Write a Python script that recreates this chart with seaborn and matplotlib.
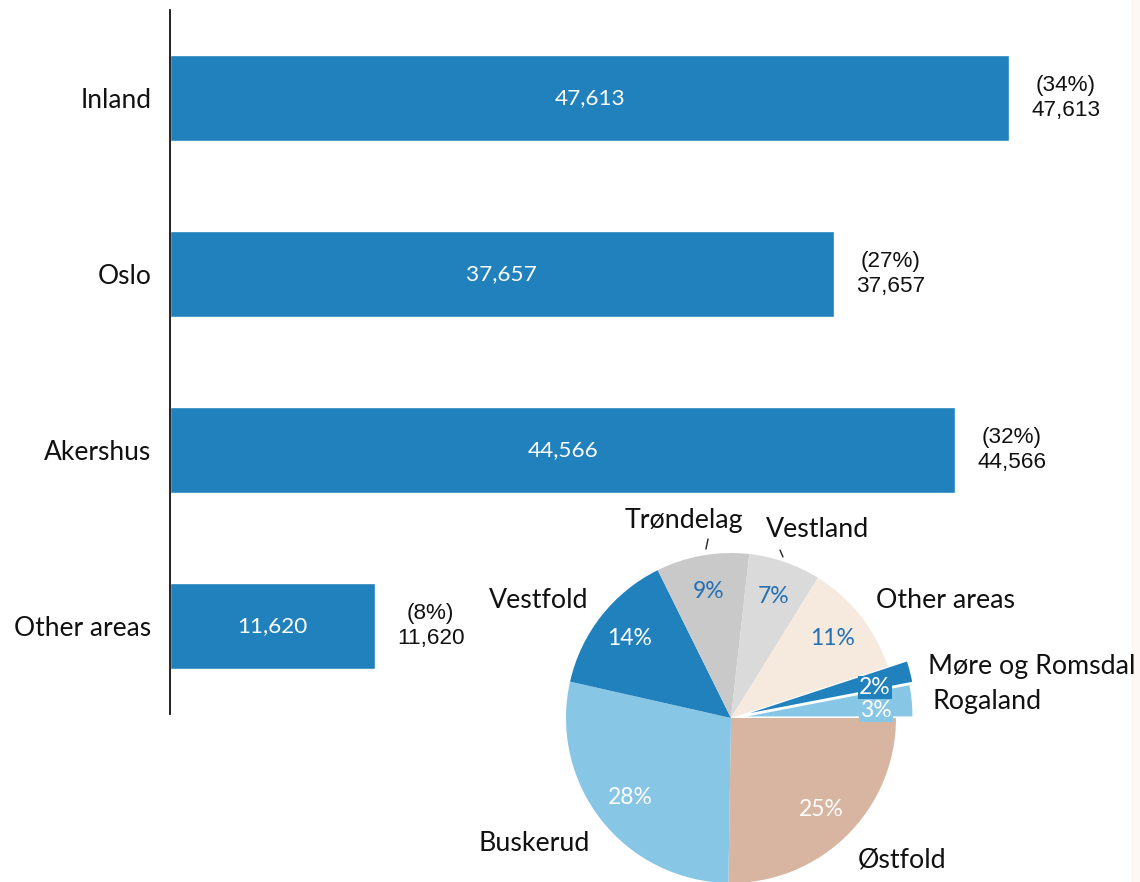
import matplotlib
matplotlib.use("Agg")
import math
import matplotlib.pyplot as plt
import seaborn as sns
import pandas as pd
from matplotlib.patches import Rectangle

# Bar chart: counts by region
regions = ["Inland", "Oslo", "Akershus", "Other areas"]
counts = [47613, 37657, 44566, 11620]

# Pie chart: breakdown of "Other areas" (percent shares)
pie_areas = ["Østfold", "Buskerud", "Vestfold", "Trøndelag", "Vestland",
             "Other areas", "Møre og Romsdal", "Rogaland"]
pie_shares = [25, 28, 14, 9, 7, 11, 2, 3]

BLUE = "#2081BD"
LIGHT_BLUE = "#88C6E5"
pie_colors = ["#D8B5A1", LIGHT_BLUE, BLUE, "#C9C9C9", "#DADADA",
              "#F6E9DD", BLUE, LIGHT_BLUE]
pct_colors = ["white", "white", "white", "#2270B3", "#2270B3",
              "#2270B3", "white", "white"]
explode = [0, 0, 0, 0, 0, 0, 0.12, 0.10]

# label anchor positions around the pie (in pie radius units)
label_layout = {
    "Trøndelag": (-0.285, 1.194, "center"),
    "Vestland": (0.527, 1.145, "center"),
    "Other areas": (0.879, 0.715, "left"),
    "Møre og Romsdal": (1.194, 0.315, "left"),
    "Rogaland": (1.224, 0.097, "left"),
    "Vestfold": (-0.867, 0.715, "right"),
    "Buskerud": (-0.855, -0.758, "right"),
    "Østfold": (0.770, -0.861, "left"),
}
# short leader strokes under the top labels (pie radius units)
leader_strokes = {
    "Trøndelag": ((-0.152, 1.024), (-0.139, 1.085)),
    "Vestland": ((0.297, 1.018), (0.315, 0.976)),
}

sns.set_style("white")
plt.rcParams["font.family"] = ["Lato", "DejaVu Sans"]

W, H = 1140, 882
fig = plt.figure(figsize=(W / 100, H / 100), dpi=100)
fig.patches.append(Rectangle((1131 / W, 0), 9 / W, 1, transform=fig.transFigure,
                             facecolor="#FDF8F4", edgecolor="none", zorder=-5))

# ---- horizontal bars ----
ax = fig.add_axes([170 / W, 168 / H, 916.4 / W, 704 / H])
ax.patch.set_alpha(0)
df = pd.DataFrame({"region": regions, "count": counts})
sns.barplot(data=df, y="region", x="count", orient="h", color=BLUE,
            saturation=1, width=0.49, ax=ax)
ax.set_xlim(0, 52000)
ax.set_ylim(3.5, -0.5)
ax.set_xlabel("")
ax.set_ylabel("")
ax.set_xticks([])
for side in ["top", "right", "bottom"]:
    ax.spines[side].set_visible(False)
ax.spines["left"].set_color("#111111")
ax.spines["left"].set_linewidth(1.3)
ax.tick_params(axis="y", length=0, pad=13.5, labelsize=19, labelcolor="#111111")

bars = ax.containers[0]
ax.bar_label(bars, labels=[f"{v:,}" for v in counts], label_type="center",
             color="white", fontsize=16.2)
total = sum(counts)
for i, v in enumerate(counts):
    ax.annotate(f"({v / total * 100:.0f}%)\n{v:,}", xy=(v, i), xytext=(22, 0),
                textcoords="offset pixels", ha="left", va="center",
                multialignment="center", fontfamily="Liberation Sans",
                fontsize=16.2, linespacing=1.2, color="#111111")

# ---- pie inset ----
cx, cy, half = 731, 718, 214.5
pax = fig.add_axes([(cx - half) / W, (H - cy - half) / H, 2 * half / W, 2 * half / H])
pax.patch.set_alpha(0)
wedges, _ = pax.pie(pie_shares, colors=pie_colors, startangle=0, counterclock=False,
                    explode=explode, radius=1, wedgeprops=dict(linewidth=0))
pax.set_xlim(-1.3, 1.3)
pax.set_ylim(-1.3, 1.3)
pax.set_aspect("equal")
pax.axis("off")

for w, name, share, fc, tc in zip(wedges, pie_areas, pie_shares, pie_colors, pct_colors):
    mid = math.radians((w.theta1 + w.theta2) / 2)
    x0, y0 = w.center
    px = x0 + 0.78 * math.cos(mid)
    py = y0 + 0.78 * math.sin(mid) - (0.04 if share <= 3 else 0)
    kw = {}
    if share <= 3:
        kw["bbox"] = dict(boxstyle="square,pad=0.05", facecolor=fc, edgecolor="none")
    pax.text(px, py, f"{share}%", ha="center", va="center", fontsize=16.5,
             color=tc, **kw)
    lx, ly, ha = label_layout[name]
    pax.text(lx, ly, name, ha=ha, va="center", fontsize=19.3, color="#111111")
    if name in leader_strokes:
        (x1, y1), (x2, y2) = leader_strokes[name]
        pax.plot([x1, x2], [y1, y2], color="#222222", lw=1.0)

fig.savefig("out.png", dpi=100)
